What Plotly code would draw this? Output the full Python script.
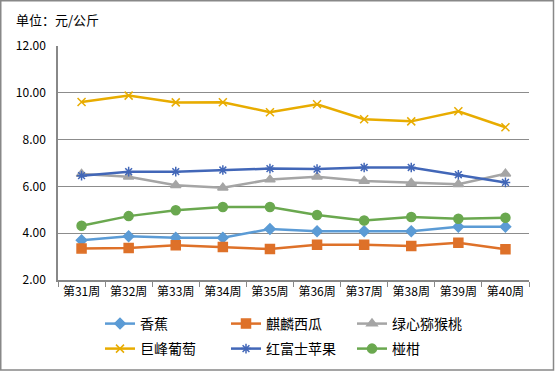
import plotly.graph_objects as go

weeks = ["第31周", "第32周", "第33周", "第34周", "第35周", "第36周", "第37周", "第38周", "第39周", "第40周"]
banana = [3.70, 3.87, 3.81, 3.81, 4.18, 4.08, 4.08, 4.08, 4.28, 4.28]
watermelon = [3.35, 3.37, 3.48, 3.41, 3.32, 3.51, 3.51, 3.45, 3.59, 3.31]
kiwi = [6.53, 6.41, 6.05, 5.94, 6.29, 6.41, 6.23, 6.15, 6.09, 6.54]
grape = [9.61, 9.88, 9.59, 9.60, 9.17, 9.51, 8.87, 8.78, 9.21, 8.53]
apple = [6.46, 6.63, 6.63, 6.70, 6.76, 6.74, 6.81, 6.81, 6.50, 6.17]
orange = [4.32, 4.73, 4.98, 5.12, 5.12, 4.78, 4.54, 4.69, 4.62, 4.66]

series = [
    ("香蕉", banana, "#5B9BD5", "diamond", 8, "legend"),
    ("麒麟西瓜", watermelon, "#DE7129", "square", 9, "legend"),
    ("绿心猕猴桃", kiwi, "#A5A5A5", "triangle-up", 9, "legend"),
    ("巨峰葡萄", grape, "#E8AC00", "x-thin", 8, "legend2"),
    ("红富士苹果", apple, "#4267B8", "asterisk", 8, "legend2"),
    ("椪柑", orange, "#6AA84F", "circle", 9, "legend2"),
]

font_cjk = "Noto Sans CJK SC"

fig = go.Figure()
for name, vals, color, sym, sz, lg in series:
    fig.add_trace(go.Scatter(
        x=weeks, y=vals, name=name, mode="lines+markers", legend=lg,
        line=dict(color=color, width=2.5),
        marker=dict(symbol=sym, size=sz, color=color,
                    line=dict(color=color, width=1.5)),
    ))

L, R, T, B = 58, 26, 46, 91
W, H = 555, 371
pw, ph = W - L - R, H - T - B

legend_common = dict(
    orientation="h", xanchor="left", yanchor="middle",
    entrywidth=81, entrywidthmode="pixels",
    font=dict(family=font_cjk, size=14, color="black"),
    itemwidth=30, tracegroupgap=0, bgcolor="rgba(0,0,0,0)",
)

fig.update_layout(
    width=W, height=H,
    margin=dict(l=L, r=R, t=T, b=B, autoexpand=False),
    paper_bgcolor="white", plot_bgcolor="white",
    font=dict(family=font_cjk, color="black", size=12),
    showlegend=True,
    legend=dict(x=(100 - L) / pw, y=-(324 - T - ph) / ph, **legend_common),
    legend2=dict(x=(100 - L) / pw, y=-(349 - T - ph) / ph, **legend_common),
    xaxis=dict(
        type="category", tickson="boundaries", ticks="outside", ticklen=5,
        tickcolor="#888888", showline=True, linecolor="#888888", linewidth=1.5,
        showgrid=False, tickfont=dict(size=12, family=font_cjk),
        range=[-0.5, 9.5],
    ),
    yaxis=dict(
        range=[2, 12], dtick=2, tickformat=".2f", showgrid=True,
        gridcolor="#8C8C8C", gridwidth=1, showline=True, linecolor="#888888",
        linewidth=1.5, zeroline=False, ticks="", ticklabelstandoff=8,
        tickfont=dict(size=12, family=font_cjk),
    ),
    annotations=[dict(
        text="单位：元/公斤", xref="paper", yref="paper",
        x=(14 - L) / pw, y=1 + (T - 20) / ph, xanchor="left", yanchor="middle",
        showarrow=False, font=dict(size=13, family=font_cjk, color="black"),
    )],
    shapes=[dict(
        type="rect", xref="paper", yref="paper",
        x0=(0.75 - L) / pw, x1=(553.5 - L) / pw,
        y0=-(370 - T - ph) / ph, y1=1 + (T - 0.75) / ph,
        line=dict(color="#888888", width=1.5), layer="above",
    )],
)

fig.write_html("out.html", config={"displayModeBar": False},
               post_script="document.body.style.margin='0';")
